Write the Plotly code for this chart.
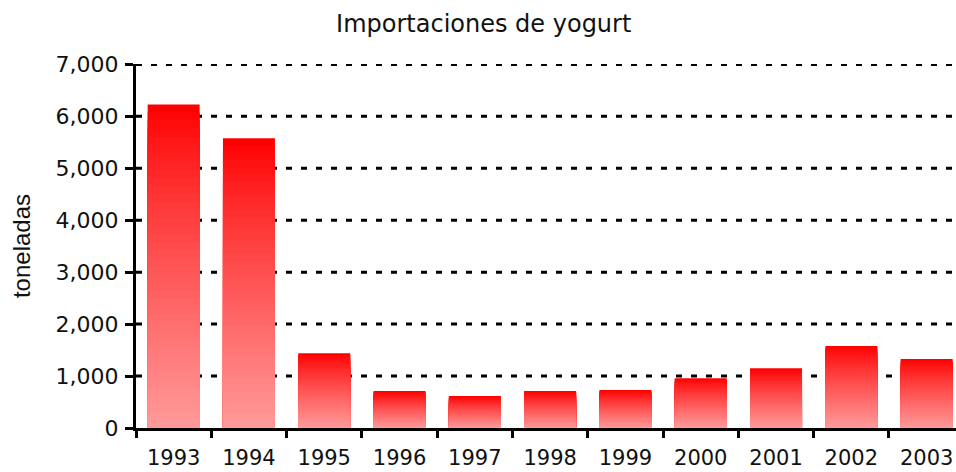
import plotly.graph_objects as go

years = ["1993", "1994", "1995", "1996", "1997", "1998", "1999", "2000", "2001", "2002", "2003"]
toneladas = [6230, 5580, 1440, 710, 615, 710, 730, 960, 1150, 1580, 1330]
y_ticks = [0, 1000, 2000, 3000, 4000, 5000, 6000, 7000]

title_text = "Importaciones de yogurt"
y_title = "toneladas"

N = 40
fig = go.Figure()
for k in range(N):
    frac = (N - k) / N
    t = (k / (N - 1)) ** 0.85
    g = int(round(0 + 152 * t))
    color = f"rgb(255,{g},{g})"
    fig.add_trace(go.Bar(
        x=years,
        y=[v * frac for v in toneladas],
        width=0.69,
        marker=dict(color=color, line=dict(width=0)),
        hoverinfo="skip",
        showlegend=False,
    ))

for yv in y_ticks[1:]:
    fig.add_shape(type="line", xref="paper", yref="y", x0=0, x1=1, y0=yv, y1=yv,
                  line=dict(color="black", width=3, dash="6px,9px"), layer="below")

fig.update_layout(
    barmode="overlay",
    width=956, height=472,
    margin=dict(l=136, r=0, t=64, b=44),
    paper_bgcolor="white", plot_bgcolor="white",
    font=dict(family="DejaVu Sans, Verdana, sans-serif", color="#111", size=22),
    title=dict(text=title_text, x=0.506, xanchor="center", y=0.951, yanchor="middle",
               font=dict(size=24)),
)
fig.update_xaxes(
    type="category", range=[-0.5, 10.39], automargin=False,
    showline=True, linecolor="black", linewidth=3,
    ticks="outside", tickson="boundaries", ticklen=7, tickwidth=2.5, tickcolor="black",
    showgrid=False, tickfont=dict(size=21), ticklabelstandoff=9,
)
fig.update_yaxes(
    range=[0, 7008], tickvals=y_ticks, tickformat=",", automargin=False,
    showline=True, linecolor="black", linewidth=3,
    ticks="outside", ticklen=8, tickwidth=2.5, tickcolor="black",
    showgrid=False, zeroline=False, tickfont=dict(size=22), ticklabelstandoff=2,
    title=dict(text=y_title, font=dict(family="Liberation Sans, Arial, sans-serif", size=24), standoff=19),
)
fig.write_html(
    "out.html",
    config={"displayModeBar": False},
    post_script="document.body.style.margin='0';document.body.style.overflow='hidden';"
                "document.documentElement.style.overflow='hidden';",
)
